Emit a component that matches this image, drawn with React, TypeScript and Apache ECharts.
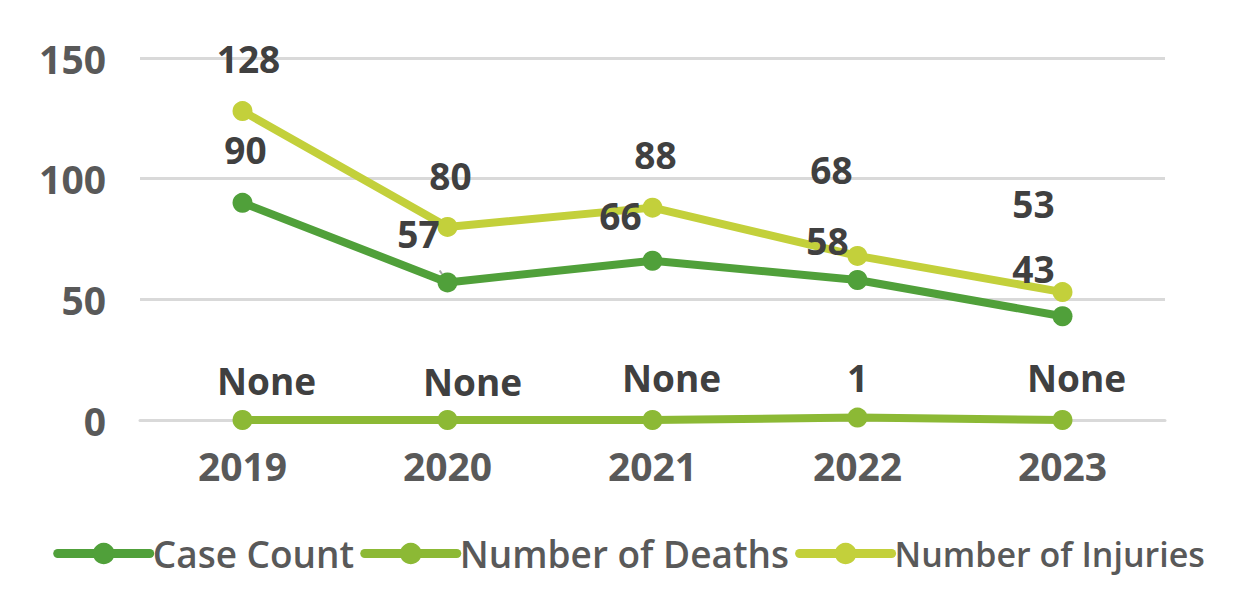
import React, { useEffect, useRef } from "react";
import * as echarts from "echarts";

const years = ["2019", "2020", "2021", "2022", "2023"];
const caseCount = [90, 57, 66, 58, 43];
const deaths = [0, 0, 0, 1, 0];
const injuries = [128, 80, 88, 68, 53];
const yTicks = [0, 50, 100, 150];

// label offsets from point center (styling)
const caseOffsets = [[3, -53], [-29, -49], [-32, -45], [-30, -40], [-29, -48]];
const deathOffsets = [[24, -40], [25, -39], [19, -43], [0, -40], [14, -43]];
const injuryOffsets = [[6, -53], [3, -51], [3, -53], [-26, -86], [-29, -89]];

const FONT = "'Open Sans', 'DejaVu Sans', sans-serif";

export default function App() {
  const ref = useRef<HTMLDivElement>(null);
  useEffect(() => {
    document.body.style.margin = "0";
    const chart = echarts.init(ref.current!, null, { renderer: "svg" });
    const labelBase = {
      show: true,
      position: "inside",
      fontFamily: FONT,
      fontSize: 37,
      fontWeight: "bold",
      color: "#404040",
    };
    const mk = (name: string, vals: number[], offs: number[][], color: string, fmtNone: boolean, guideIdx: number) => ({
      name,
      type: "line",
      symbol: "circle",
      symbolSize: 20,
      lineStyle: { width: 8, color },
      itemStyle: { color },
      data: vals.map((v, i) => ({
        value: v,
        label: {
          ...labelBase,
          offset: offs[i],
          formatter: fmtNone && v === 0 ? "None" : String(v),
        },
        labelLine:
          i === guideIdx
            ? { show: true, lineStyle: { color: "#a6a6a6", width: 2 } }
            : { show: false },
      })),
      label: labelBase,
    });
    chart.setOption({
      animation: false,
      grid: { left: 140, right: 93, top: 58, bottom: 180, containLabel: false },
      xAxis: {
        type: "category",
        data: years,
        boundaryGap: true,
        axisLine: { show: true, lineStyle: { color: "#d9d9d9", width: 3 } },
        axisTick: { show: false },
        axisLabel: {
          fontFamily: FONT,
          fontSize: 39,
          fontWeight: "bold",
          color: "#595959",
          margin: 26,
        },
      },
      yAxis: {
        type: "value",
        min: yTicks[0],
        max: yTicks[yTicks.length - 1],
        interval: 50,
        axisLine: { show: false },
        axisTick: { show: false },
        splitLine: { lineStyle: { color: "#d9d9d9", width: 3 } },
        axisLabel: {
          fontFamily: FONT,
          fontSize: 39,
          fontWeight: "bold",
          color: "#595959",
          margin: 34,
        },
      },
      legend: {
        top: 530,
        left: "center",
        itemWidth: 92,
        itemHeight: 27,
        itemGap: 6,
        lineStyle: { width: 9, cap: "round" },
        textStyle: {
          fontFamily: FONT,
          fontSize: 37,
          fontWeight: 600,
          color: "#595959",
          padding: [0, 0, 0, -2],
          rich: {
            small: { fontFamily: FONT, fontSize: 34, fontWeight: 600, color: "#595959" },
          },
        },
        formatter: (n: string) => (n === "Number of Injuries" ? `{small|${n}}` : n),
        data: ["Case Count", "Number of Deaths", "Number of Injuries"],
      },
      series: [
        mk("Case Count", caseCount, caseOffsets, "#50a03a", false, 1),
        mk("Number of Deaths", deaths, deathOffsets, "#8cb935", true, -1),
        mk("Number of Injuries", injuries, injuryOffsets, "#c3d03b", false, -1),
      ],
    });
    return () => chart.dispose();
  }, []);
  return <div ref={ref} style={{ width: 1258, height: 600 }} />;
}
